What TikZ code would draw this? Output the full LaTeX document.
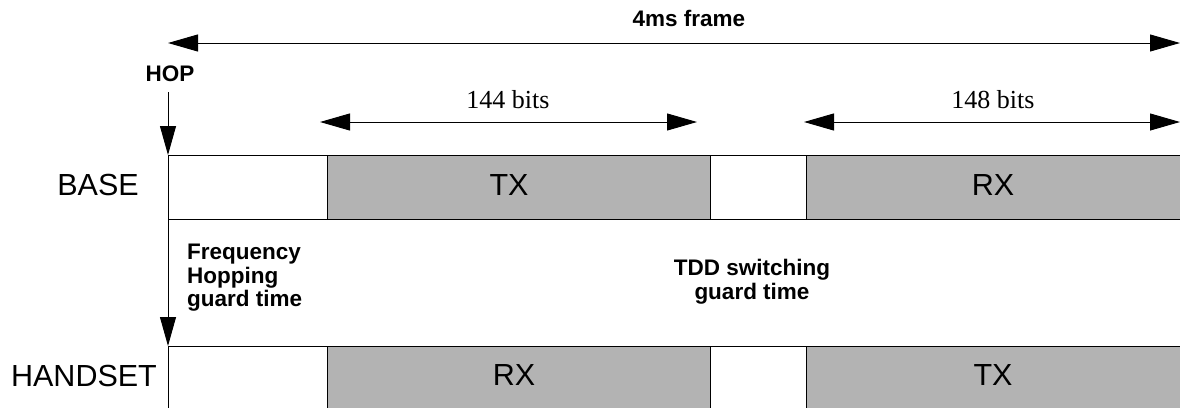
\documentclass[tikz,border=0pt]{standalone}
\usepackage{fontspec}
\setmainfont{Liberation Sans}
\newfontfamily\tms{Liberation Serif}
\usetikzlibrary{arrows.meta}
\definecolor{slotgray}{RGB}{179,179,179}
\tikzset{
  slot/.style={draw=black, line width=1pt, inner sep=0pt, outer sep=0pt, anchor=north west, minimum height=64pt},
  busy/.style={slot, fill=slotgray},
  idle/.style={slot, fill=white},
  big/.style={font=\fontsize{30.5}{36}\selectfont, inner sep=0pt, anchor=base},
  bold/.style={font=\fontsize{22.5}{23.5}\selectfont\bfseries, inner sep=0pt},
  bits/.style={font=\tms\fontsize{26}{30}\selectfont, inner sep=0pt, anchor=base},
  dim/.style={line width=1pt, {Triangle[length=30pt,width=17pt]}-{Triangle[length=30pt,width=17pt]}},
  hop/.style={line width=1pt, -{Triangle[length=29pt,width=16pt]}}
}
\begin{document}
\begin{tikzpicture}[x=1pt,y=-1pt]
\clip (0,0) rectangle (1180,407);
\fill[white] (0,0) rectangle (1180,407);
% base row
\node[idle, minimum width=159pt] (b1) at (168,155) {};
\node[busy, minimum width=383pt] (btx) at (327,155) {};
\node[idle, minimum width=96pt] (b2) at (710,155) {};
\node[busy, minimum width=380pt] (brx) at (806,155) {};
% handset row
\node[idle, minimum width=159pt, minimum height=70pt] (h1) at (168,346) {};
\node[busy, minimum width=383pt, minimum height=70pt] (hrx) at (327,346) {};
\node[idle, minimum width=96pt, minimum height=70pt] (h2) at (710,346) {};
\node[busy, minimum width=380pt, minimum height=70pt] (htx) at (806,346) {};
% row texts
\node[big] (lbase) at (98,195) {BASE};
\node[big] (lhand) at (84,386) {HANDSET};
\node[big] (tbtx) at (509,195) {TX};
\node[big] (tbrx) at (993,195) {RX};
\node[big] (thrx) at (514,385) {RX};
\node[big] (thtx) at (993,385) {TX};
% frame arrow
\coordinate (fl) at (168,43);
\coordinate (fr) at (1180,43);
\draw[dim] (fl) -- (fr);
\node[bold, anchor=base] (frame) at (689,26) {4ms frame};
% bit arrows
\coordinate (al) at (320,122);
\coordinate (ar) at (697,122);
\draw[dim] (al) -- (ar);
\node[bits] (t144) at (508,108) {144 bits};
\coordinate (cl) at (804,122);
\coordinate (cr) at (1180,122);
\draw[dim] (cl) -- (cr);
\node[bits] (t148) at (993,108) {148 bits};
% hop
\node[bold, anchor=base] (hoplbl) at (170,81.5) {HOP};
\coordinate (hoptop) at (168,92);
\draw[hop] (hoptop) -- (b1.north west);
\draw[hop] (b1.south west) -- (h1.north west);
% guard labels
\node[bold, align=left, anchor=north west] (fh) at (187,244) {Frequency\\Hopping\\guard time};
\node[bold, align=center, anchor=north] (tdd) at (752,259) {TDD switching\\guard time};
\end{tikzpicture}
\end{document}
